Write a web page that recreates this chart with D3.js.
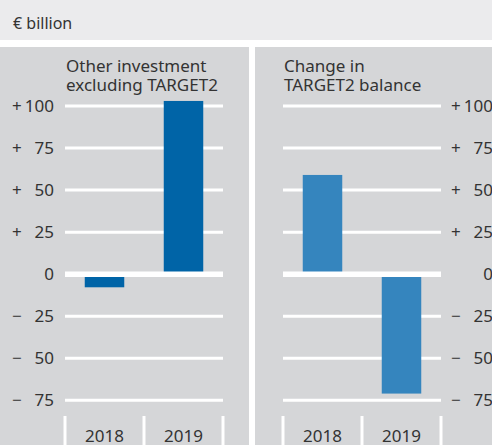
<!DOCTYPE html>
<html>
<head>
<meta charset="utf-8">
<script src="https://cdn.jsdelivr.net/npm/d3@7"></script>
<style>
  body { margin: 0; background: #fff; }
  text { font-family: "Noto Sans", "Open Sans", sans-serif; fill: #333; }
</style>
</head>
<body>
<div id="content"></div>
<script>
// values in € billion
let years = ["2018", "2019"];
let otherInvestment = [-7.8, 103];
let target2Change = [59, -71];
let tickValues = [100, 75, 50, 25, 0, -25, -50, -75];
let unitLabel = "€ billion";
let leftTitle = ["Other investment", "excluding TARGET2"];
let rightTitle = ["Change in", "TARGET2 balance"];

let width = 492;
let height = 445;
let svg = d3.select("#content").append("svg")
  .attr("width", width)
  .attr("height", height);

// header band
svg.append("rect").attr("x", 0).attr("y", 0).attr("width", width).attr("height", 40)
  .style("fill", "#ebebed");
svg.append("text").attr("x", 13).attr("y", 29).style("font-size", "16px").text(unitLabel);

let y = d3.scaleLinear().domain([-75, 100]).range([400.3, 106]);

function tickParts(v) {
  if (v > 0) return ["+", String(v)];
  if (v < 0) return ["\u2212", String(-v)];
  return ["", "0"];
}

function panel(opts) {
  let {x0, x1, plotLeft, plotRight, values, color, title, signX, numX} = opts;
  let g = svg.append("g");
  g.append("rect").attr("x", x0).attr("y", 47).attr("width", x1 - x0).attr("height", height - 47)
    .style("fill", "#d5d6d8");

  let x = d3.scaleBand().domain(years).range([plotLeft, plotRight])
    .paddingInner(0.5).paddingOuter(0.25);

  // grid lines
  g.selectAll("line.grid").data(tickValues.filter(d => d !== 0)).enter().append("line")
    .attr("class", "grid")
    .attr("x1", plotLeft).attr("x2", plotRight)
    .attr("y1", d => y(d)).attr("y2", d => y(d))
    .style("stroke", "#fff").style("stroke-width", 3);

  // bars
  g.selectAll("rect.bar").data(values).enter().append("rect")
    .attr("class", "bar")
    .attr("x", (d, i) => x(years[i]))
    .attr("width", x.bandwidth())
    .attr("y", d => y(Math.max(0, d)))
    .attr("height", d => Math.abs(y(d) - y(0)))
    .style("fill", color);

  // zero line
  g.append("line").attr("x1", plotLeft).attr("x2", plotRight)
    .attr("y1", y(0)).attr("y2", y(0))
    .style("stroke", "#fff").style("stroke-width", 5.5);

  // category separators at the bottom
  let step = x.step();
  let seps = [plotLeft, plotLeft + step, plotRight];
  g.selectAll("line.sep").data(seps).enter().append("line")
    .attr("x1", d => d).attr("x2", d => d)
    .attr("y1", 416).attr("y2", height)
    .style("stroke", "#fff").style("stroke-width", 3);

  g.selectAll("text.year").data(years).enter().append("text")
    .attr("x", d => x(d) + x.bandwidth() / 2)
    .attr("y", 442)
    .attr("text-anchor", "middle")
    .style("font-size", "17px")
    .text(d => d);

  // tick labels: sign and number aligned separately
  g.selectAll("text.sign").data(tickValues).enter().append("text")
    .attr("x", signX).attr("y", d => y(d) + 6)
    .style("font-size", "17px")
    .text(d => tickParts(d)[0]);
  g.selectAll("text.num").data(tickValues).enter().append("text")
    .attr("x", numX).attr("y", d => y(d) + 6)
    .attr("text-anchor", "end")
    .style("font-size", "17px")
    .text(d => tickParts(d)[1]);

  // title
  g.selectAll("text.title").data(title).enter().append("text")
    .attr("x", plotLeft + 1).attr("y", (d, i) => 72 + i * 18.5)
    .style("font-size", "17px")
    .text(d => d);
}

panel({x0: 0, x1: 249, plotLeft: 65, plotRight: 223, values: otherInvestment,
       color: "#0064a7", title: leftTitle, signX: 12, numX: 54});
panel({x0: 255, x1: width, plotLeft: 283, plotRight: 441, values: target2Change,
       color: "#3585be", title: rightTitle, signX: 451, numX: 493});
</script>
</body>
</html>
